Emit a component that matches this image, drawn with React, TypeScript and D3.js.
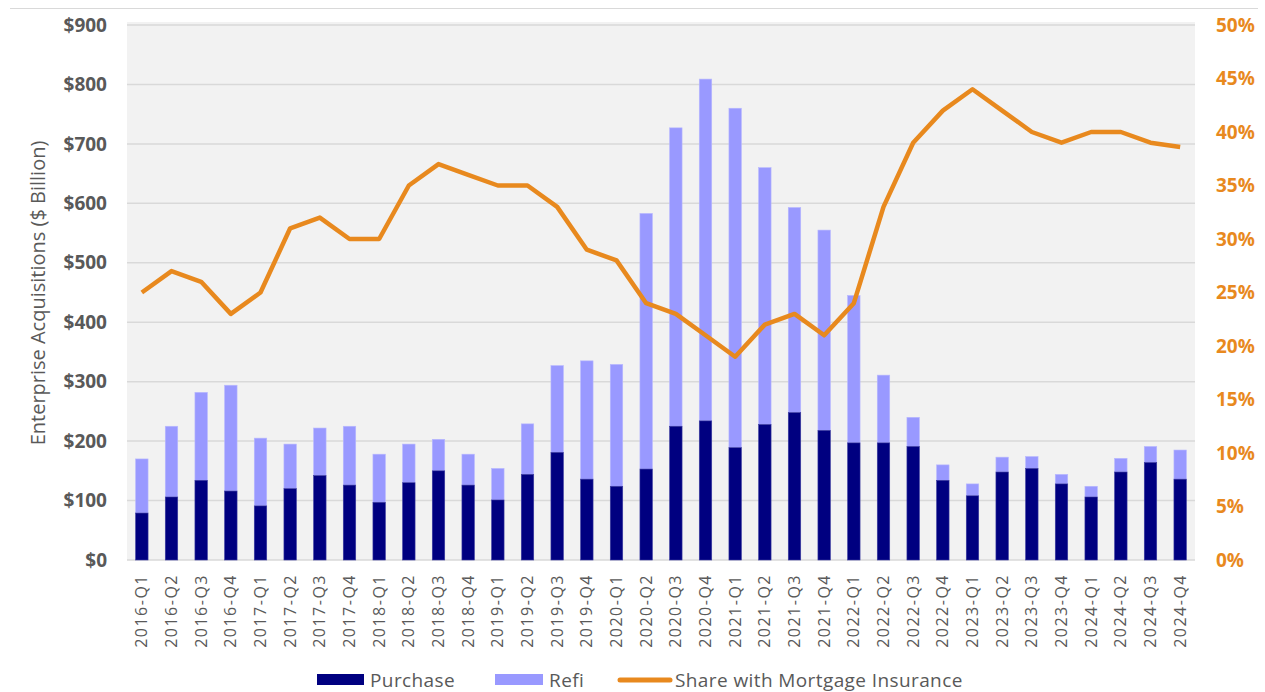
import React from "react";
import * as d3 from "d3";

const categories = [
  "2016-Q1","2016-Q2","2016-Q3","2016-Q4",
  "2017-Q1","2017-Q2","2017-Q3","2017-Q4",
  "2018-Q1","2018-Q2","2018-Q3","2018-Q4",
  "2019-Q1","2019-Q2","2019-Q3","2019-Q4",
  "2020-Q1","2020-Q2","2020-Q3","2020-Q4",
  "2021-Q1","2021-Q2","2021-Q3","2021-Q4",
  "2022-Q1","2022-Q2","2022-Q3","2022-Q4",
  "2023-Q1","2023-Q2","2023-Q3","2023-Q4",
  "2024-Q1","2024-Q2","2024-Q3","2024-Q4",
];

// $ Billion
const purchase = [
  79, 106, 134, 116,
  91, 120, 142, 126,
  97, 130, 150, 126,
  101, 144, 181, 136,
  124, 153, 225, 234,
  189, 228, 248, 218,
  197, 197, 191, 134,
  108, 148, 154, 128,
  106, 148, 164, 136,
];

const refi = [
  91, 119, 148, 178,
  114, 75, 80, 99,
  81, 65, 53, 52,
  53, 85, 146, 199,
  205, 430, 502, 575,
  571, 432, 345, 337,
  248, 114, 49, 26,
  20, 25, 20, 16,
  18, 23, 27, 49,
];

// share with mortgage insurance (%)
const share = [
  25, 27, 26, 23,
  25, 31, 32, 30,
  30, 35, 37, 36,
  35, 35, 33, 29,
  28, 24, 23, 21,
  19, 22, 23, 21,
  24, 33, 39, 42,
  44, 42, 40, 39,
  40, 40, 39, 38.6,
];

const leftTicks = [0, 100, 200, 300, 400, 500, 600, 700, 800, 900];
const rightTicks = [0, 5, 10, 15, 20, 25, 30, 35, 40, 45, 50];

const W = 1265;
const H = 692;
const plot = { left: 127, right: 1195, top: 25, bottom: 560 };
const FONT = "'Open Sans', 'Noto Sans', sans-serif";
const GRAY = "#595959";
const ORANGE = "#E8891E";
const NAVY = "#000080";
const LILAC = "#9999FF";

export default function App() {
  const x = d3
    .scaleBand<string>()
    .domain(categories)
    .range([plot.left, plot.right])
    .paddingInner(0.58)
    .paddingOuter(0.29);
  const yL = d3.scaleLinear().domain([0, 900]).range([plot.bottom, plot.top]);
  const yR = d3.scaleLinear().domain([0, 50]).range([plot.bottom, plot.top]);

  const line = d3
    .line<number>()
    .x((_, i) => (x(categories[i]) as number) + x.bandwidth() / 2)
    .y((d) => yR(d));

  const fmtL = (v: number) => `$${v}`;

  return (
    <svg
      width={W}
      height={H}
      style={{ position: "absolute", left: 0, top: 0, background: "#fff" }}
      fontFamily={FONT}
    >
      <line x1={10} x2={1258} y1={8.5} y2={8.5} stroke="#d9d9d9" strokeWidth={1} />
      <rect
        x={plot.left}
        y={plot.top - 3}
        width={plot.right - plot.left}
        height={plot.bottom - plot.top + 3}
        fill="#f2f2f2"
      />
      {leftTicks.map((t) => (
        <line
          key={t}
          x1={plot.left}
          x2={plot.right}
          y1={yL(t)}
          y2={yL(t)}
          stroke="#d9d9d9"
          strokeWidth={1.5}
        />
      ))}
      {categories.map((c, i) => {
        const bx = x(c) as number;
        return (
          <g key={c}>
            <rect
              x={bx}
              width={x.bandwidth()}
              y={yL(purchase[i] + refi[i])}
              height={yL(purchase[i]) - yL(purchase[i] + refi[i])}
              fill={LILAC}
              stroke="#b8b8ff"
              strokeWidth={0.6}
            />
            <rect
              x={bx}
              width={x.bandwidth()}
              y={yL(purchase[i])}
              height={yL(0) - yL(purchase[i])}
              fill={NAVY}
              stroke="#3a3aa0"
              strokeWidth={0.6}
            />
          </g>
        );
      })}
      <path
        d={line(share) || ""}
        fill="none"
        stroke={ORANGE}
        strokeWidth={4.5}
        strokeLinejoin="round"
      />
      {leftTicks.map((t) => (
        <text
          key={t}
          x={107}
          y={yL(t)}
          dy="0.35em"
          textAnchor="end"
          fontSize={19}
          fontWeight={700}
          fill={GRAY}
        >
          {fmtL(t)}
        </text>
      ))}
      {rightTicks.map((t) => (
        <text
          key={t}
          x={1216}
          y={yR(t)}
          dy="0.35em"
          textAnchor="start"
          fontSize={19}
          fontWeight={700}
          fill={ORANGE}
        >
          {`${t}%`}
        </text>
      ))}
      <text
        transform={`translate(45, 293) rotate(-90)`}
        textAnchor="middle"
        fontSize={20}
        fill={GRAY}
      >
        Enterprise Acquisitions ($ Billion)
      </text>
      {categories.map((c) => (
        <text
          key={c}
          transform={`translate(${(x(c) as number) + x.bandwidth() / 2}, 574) rotate(-90)`}
          textAnchor="end"
          dy="0.35em"
          fontSize={16}
          letterSpacing={1.5}
          fill={GRAY}
        >
          {c}
        </text>
      ))}
      <g fontSize={19} fill={GRAY} letterSpacing={0.4}>
        <rect x={317} y={674} width={47} height={11} fill={NAVY} />
        <text x={370} y={680} dy="0.35em">Purchase</text>
        <rect x={495} y={674} width={48} height={11} fill={LILAC} />
        <text x={549} y={680} dy="0.35em">Refi</text>
        <line x1={620} x2={670} y1={680} y2={680} stroke={ORANGE} strokeWidth={5} strokeLinecap="round" />
        <text x={675} y={680} dy="0.35em">Share with Mortgage Insurance</text>
      </g>
    </svg>
  );
}
